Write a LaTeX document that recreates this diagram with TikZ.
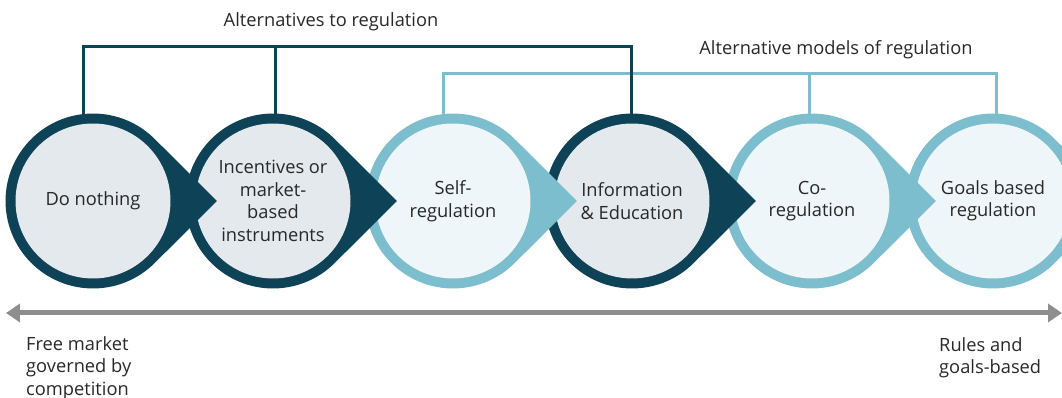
\documentclass[tikz,border=0pt]{standalone}
\usepackage{fontspec}
\setmainfont{Open Sans}
\usepackage{xcolor}
\usepackage{tikz}
\usetikzlibrary{positioning,calc,arrows.meta,backgrounds}
\definecolor{dkRing}{RGB}{14,66,86}
\definecolor{ltRing}{RGB}{124,190,205}
\definecolor{dkFill}{RGB}{228,233,237}
\definecolor{ltFill}{RGB}{238,246,249}
\definecolor{txtColor}{RGB}{40,40,40}
\definecolor{scaleColor}{RGB}{142,142,142}
\tikzset{
    stage/.style={
        circle,
        inner sep=0pt,
        minimum size=3.1cm,
        align=center,
        text=txtColor,
        font=\fontsize{10.4}{12.8}\selectfont
    },
    dkstage/.style={stage, fill=dkFill},
    ltstage/.style={stage, fill=ltFill},
    dkbar/.style={draw=dkRing, line width=0.06cm},
    ltbar/.style={draw=ltRing, line width=0.06cm},
    label/.style={text=txtColor, font=\fontsize{10.4}{12.8}\selectfont, align=left},
    scale arrow/.style={
        {Triangle[length=0.28cm,width=0.36cm]}-{Triangle[length=0.28cm,width=0.36cm]},
        draw=scaleColor,
        line width=0.1cm
    }
}
% ring with a pointed tip towards the next stage
\newcommand{\drop}[2]{%
    \fill[#2] ([shift={(45.4:1.75cm)}]#1) -- ([xshift=2.48cm]#1)
        -- ([shift={(-45.4:1.75cm)}]#1)
        arc[start angle=-45.4, end angle=-314.6, radius=1.75cm] -- cycle;}

\begin{document}
\begin{tikzpicture}[x=0.02cm, y=0.02cm]
    \useasboundingbox (0,0) rectangle (1062,398);

    \coordinate (c1) at (93,197);
    \coordinate (c2) at (273,197);
    \coordinate (c3) at (453,197);
    \coordinate (c4) at (632,197);
    \coordinate (c5) at (812,197);
    \coordinate (c6) at (993,197);

    % stages, right to left so each tip lies over the next circle
    \drop{c6}{ltRing}
    \node[ltstage] (goals) at (c6) {Goals based\\regulation};
    \drop{c5}{ltRing}
    \node[ltstage] (coreg) at (c5) {Co-\\regulation};
    \drop{c4}{dkRing}
    \node[dkstage] (info) at (c4) {Information\\\& Education};
    \drop{c3}{ltRing}
    \node[ltstage] (selfreg) at (c3) {Self-\\regulation};
    \drop{c2}{dkRing}
    \node[dkstage] (incent) at (c2) {Incentives or\\market-\\based\\instruments};
    \drop{c1}{dkRing}
    \node[dkstage] (nothing) at (c1) {Do nothing};

    % brackets
    \coordinate (altL) at (83,351);
    \coordinate (altM) at (275,351);
    \coordinate (altR) at (631,351);
    \coordinate (modL) at (443,324);
    \coordinate (modM) at (809,324);
    \coordinate (modR) at (996,324);
    \node[label] (alt) at (331,376) {Alternatives to regulation};
    \node[label] (mod) at (836,348) {Alternative models of regulation};
    \begin{pgfonlayer}{background}
        \draw[ltbar] (modL |- selfreg.center) -- (modL) -- (modR) -- (modR |- goals.center);
        \draw[ltbar] (modM) -- (modM |- coreg.center);
        \draw[dkbar] (altL |- nothing.center) -- (altL) -- (altR) -- (altR |- info.center);
        \draw[dkbar] (altM) -- (altM |- incent.center);
    \end{pgfonlayer}

    % scale
    \coordinate (free) at (6,85);
    \coordinate (rules) at (1062,85);
    \draw[scale arrow] (free) -- (rules);
    \node[label, anchor=north west] (freeTxt) at (20,68) {Free market\\governed by\\competition};
    \node[label, anchor=north west] (rulesTxt) at (933,67) {Rules and\\goals-based};
\end{tikzpicture}
\end{document}
